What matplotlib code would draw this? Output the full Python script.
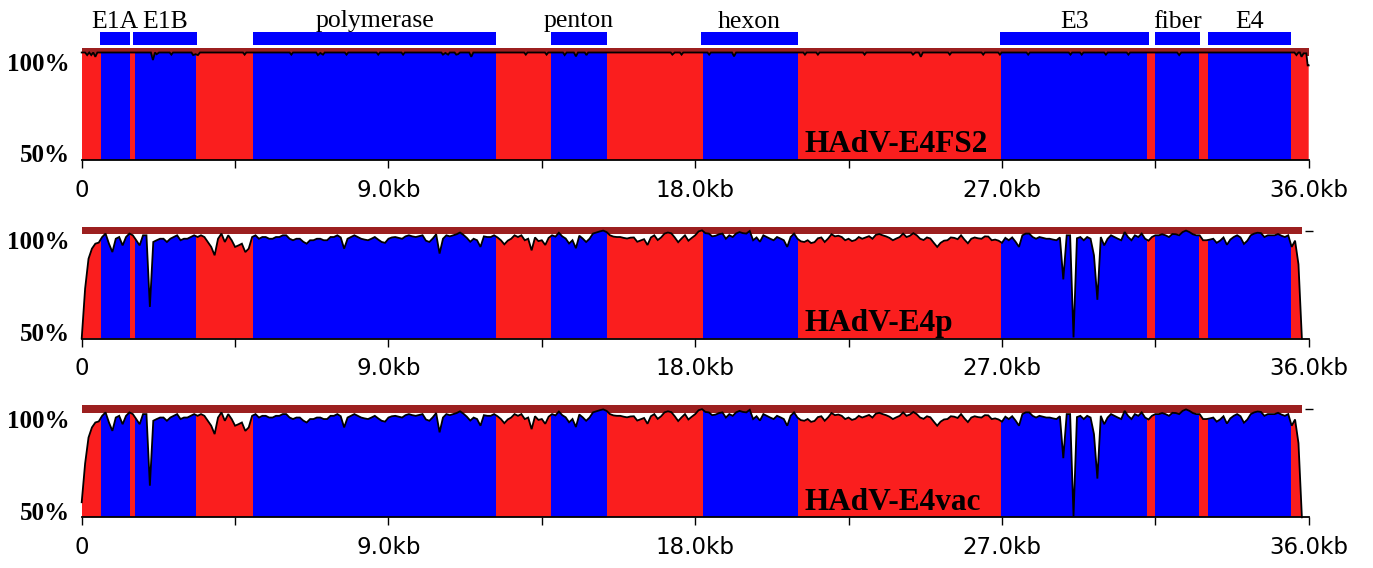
import numpy as np
import matplotlib
matplotlib.use("Agg")
import matplotlib.pyplot as plt
from matplotlib.patches import Polygon, Rectangle
from matplotlib.transforms import blended_transform_factory

# ---------------- data ----------------
# coloured regions along the genome (kb); 'r' = non-coding (red), 'b' = coding (blue)
region_start = [0.0, 0.57, 1.41, 1.56, 3.34, 5.02, 12.17, 13.78, 15.40, 18.22,
                21.03, 26.96, 31.27, 31.50, 32.77, 33.05, 35.48]
region_type = ['r', 'b', 'r', 'b', 'r', 'b', 'r', 'b', 'r', 'b',
               'r', 'b', 'r', 'b', 'r', 'b', 'r']

# gene annotation (kb)
gene_names = ['E1A', 'E1B', 'polymerase', 'penton', 'hexon', 'E3', 'fiber', 'E4']
gene_start = [0.53, 1.51, 5.03, 13.77, 18.16, 26.93, 31.50, 33.06]
gene_end = [1.41, 3.37, 12.17, 15.40, 21.03, 31.32, 32.81, 35.48]

# x-axis ticks
major_ticks = [0, 9, 18, 27, 36]
major_labels = ['0', '9.0kb', '18.0kb', '27.0kb', '36.0kb']
minor_ticks = [4.5, 13.5, 22.5, 31.5]

panel_names = ['HAdV-E4FS2', 'HAdV-E4p', 'HAdV-E4vac']
seq_len = [36.0, 35.8, 35.8]

# HAdV-E4FS2: identity curve vertices (kb, %)
fs2_kb = [0.0, 0.1, 0.16, 0.22, 0.28, 0.34, 0.4, 0.46, 2.03, 2.09, 2.15, 2.2, 2.27,
          2.58, 2.63, 2.68, 3.22, 3.27, 3.34, 3.41, 3.47, 4.73, 4.78, 4.83, 6.1, 6.15,
          6.2, 6.88, 6.93, 7.0, 7.08, 7.13, 7.72, 7.77, 7.82, 8.65, 8.7, 8.75, 9.38,
          9.43, 9.48, 10.55, 10.6, 10.67, 10.75, 10.8, 10.94, 10.99, 11.04, 11.1,
          11.37, 11.43, 11.49, 12.98, 13.03, 13.08, 13.59, 13.64, 13.69, 14.12, 14.17,
          14.23, 14.44, 14.5, 14.56, 14.76, 14.81, 14.86, 17.28, 17.33, 17.4, 17.55,
          17.6, 17.65, 18.36, 18.41, 18.46, 19.08, 19.14, 19.2, 21.17, 21.22, 21.27,
          21.55, 21.6, 21.65, 22.92, 22.97, 23.02, 24.34, 24.39, 24.46, 24.56, 24.62,
          24.68, 25.42, 25.47, 25.52, 26.4, 26.45, 26.5, 26.89, 26.94, 26.99, 27.72,
          27.77, 27.82, 28.96, 29.01, 29.06, 29.29, 29.34, 29.39, 30.0, 30.05, 30.1,
          30.66, 30.71, 30.76, 32.14, 32.2, 32.26, 35.58, 35.64, 35.7, 35.74, 35.79,
          35.85, 35.93, 35.97, 36.0]
fs2_pct = [100, 100, 98.8, 100, 98.8, 100, 98.0, 100, 100, 96.5, 100, 99.2, 100,
           100, 99.0, 100, 100, 98.8, 99.2, 98.8, 100, 100, 99.0, 100, 100, 99.0,
           100, 100, 98.8, 99.8, 99.0, 100, 100, 99.0, 100, 100, 99.0, 100, 100,
           99.0, 100, 100, 99.0, 99.8, 99.0, 100, 100, 99.0, 99.2, 100,
           100, 98.0, 100, 100, 99.0, 100, 100, 99.0, 100, 100, 98.8,
           100, 100, 98.2, 100, 100, 98.8, 100, 100, 99.0, 100, 100,
           99.0, 100, 100, 99.0, 100, 100, 98.2, 100, 100, 99.0, 100,
           100, 99.0, 100, 100, 99.0, 100, 100, 99.0, 100, 100, 98.0,
           100, 100, 99.0, 100, 100, 99.0, 100, 100, 99.0, 100, 100,
           99.0, 100, 100, 99.0, 100, 100, 99.0, 100, 100, 99.0, 100,
           100, 99.0, 100, 100, 98.8, 100, 100, 98.8, 100, 100, 98.0,
           99.6, 99.6, 94.0, 94.0]

# HAdV-E4p: identity (%) every 0.1 kb from 0.0 kb (one row = 1 kb)
e4p_pct = [
    50.0, 73.2, 87.1, 91.8, 94.1, 94.6, 97.2, 98.8, 94.1, 90.2,
    96.4, 97.2, 93.3, 97.2, 98.8, 98.0, 95.7, 93.3, 98.0, 98.0,
    64.7, 94.9, 95.7, 96.4, 96.4, 94.9, 96.4, 97.2, 98.0, 95.7,
    96.4, 96.4, 97.2, 98.0, 97.2, 98.0, 97.2, 94.9, 92.6, 88.7,
    96.4, 98.8, 94.9, 98.0, 95.7, 92.6, 93.3, 94.1, 90.2, 91.8,
    97.2, 98.0, 96.4, 97.2, 97.2, 96.4, 96.4, 97.2, 97.2, 98.0,
    98.0, 96.4, 95.7, 96.4, 96.4, 95.0, 94.1, 95.7, 95.7, 96.4,
    96.4, 95.7, 95.7, 97.2, 97.2, 98.0, 97.0, 91.8, 96.4, 97.2,
    98.0, 97.2, 96.4, 96.0, 95.7, 96.4, 97.2, 96.0, 94.9, 94.5,
    96.4, 97.0, 97.2, 96.8, 96.4, 97.5, 98.0, 97.5, 97.2, 97.6,
    98.0, 95.5, 94.9, 96.5, 98.5, 89.5, 96.4, 98.0, 97.5, 98.0,
    98.5, 99.3, 98.2, 96.8, 95.0, 96.4, 95.7, 92.6, 97.5, 97.2,
    97.2, 98.0, 97.0, 95.7, 93.8, 95.5, 96.4, 98.0, 97.2, 98.0,
    95.7, 96.4, 91.0, 97.0, 95.3, 95.7, 93.5, 96.8, 98.0, 97.4,
    99.2, 97.5, 96.5, 94.2, 95.7, 92.0, 97.8, 96.5, 94.9, 96.4,
    98.8, 99.3, 99.8, 100.2, 99.5, 98.0, 97.4, 97.2, 97.2, 96.8,
    96.5, 96.9, 97.0, 95.0, 95.6, 96.2, 93.5, 97.0, 98.0, 95.8,
    97.0, 98.8, 99.3, 98.9, 97.0, 94.8, 96.5, 98.0, 95.5, 96.8,
    98.0, 99.8, 100.3, 99.0, 98.8, 97.5, 97.8, 98.5, 98.8, 96.4,
    98.0, 97.2, 98.8, 99.5, 99.0, 98.8, 100.0, 95.7, 97.0, 95.0,
    98.0, 97.2, 96.4, 95.7, 97.2, 96.5, 95.7, 92.6, 97.2, 98.8,
    96.4, 95.2, 94.9, 95.7, 94.4, 94.8, 96.6, 97.0, 94.9, 96.5,
    98.5, 97.5, 97.8, 97.2, 95.7, 96.4, 95.3, 95.8, 97.2, 96.4,
    97.0, 97.6, 96.4, 98.2, 98.6, 98.0, 97.5, 96.8, 95.7, 96.5,
    97.2, 98.8, 97.2, 97.8, 99.0, 98.0, 96.4, 95.8, 97.0, 96.5,
    94.5, 92.6, 94.5, 95.5, 95.7, 97.0, 96.8, 96.2, 98.0, 96.0,
    94.3, 96.4, 97.0, 96.6, 96.4, 97.5, 97.4, 95.7, 96.0, 95.5,
    94.5, 96.8, 95.7, 97.0, 95.0, 92.6, 98.0, 98.8, 98.8, 97.2,
    96.4, 97.2, 96.8, 96.4, 96.4, 96.0, 95.7, 97.0, 77.5, 98.0,
    98.0, 50.5, 96.6, 97.2, 95.7, 97.2, 96.4, 88.7, 68.0, 97.2,
    93.3, 96.4, 98.0, 97.2, 96.4, 95.7, 99.5, 97.2, 95.7, 98.0,
    97.2, 98.8, 96.4, 95.5, 97.2, 98.0, 98.0, 98.5, 98.0, 97.2,
    98.6, 98.5, 98.0, 99.5, 100.2, 99.5, 98.5, 98.0, 98.0, 95.7,
    95.7, 96.0, 96.4, 94.5, 95.5, 97.0, 93.6, 96.0, 97.2, 98.0,
    97.0, 94.0, 95.5, 98.0, 98.8, 99.2, 99.0, 97.2, 98.0, 98.0,
    98.0, 98.6, 97.8, 97.2, 98.0, 92.6, 95.5, 84.5, 50.0,
]

# HAdV-E4vac: identity (%) every 0.1 kb from 0.0 kb (one row = 1 kb)
e4vac_pct = [
    57.0, 75.0, 87.1, 91.8, 94.1, 94.6, 97.2, 98.8, 94.1, 90.2,
    96.4, 97.2, 93.3, 97.2, 98.8, 98.0, 95.7, 93.3, 98.0, 98.0,
    64.7, 94.9, 95.7, 96.4, 96.4, 94.9, 96.4, 97.2, 98.0, 95.7,
    96.4, 96.4, 97.2, 98.0, 97.2, 98.0, 97.2, 94.9, 92.6, 88.7,
    96.4, 98.8, 94.9, 98.0, 95.7, 92.6, 93.3, 94.1, 90.2, 91.8,
    97.2, 98.0, 96.4, 97.2, 97.2, 96.4, 96.4, 97.2, 97.2, 98.0,
    98.0, 96.4, 95.7, 96.4, 96.4, 95.0, 94.1, 95.7, 95.7, 96.4,
    96.4, 95.7, 95.7, 97.2, 97.2, 98.0, 97.0, 91.8, 96.4, 97.2,
    98.0, 97.2, 96.4, 96.0, 95.7, 96.4, 97.2, 96.0, 94.9, 94.5,
    96.4, 97.0, 97.2, 96.8, 96.4, 97.5, 98.0, 97.5, 97.2, 97.6,
    98.0, 95.5, 94.9, 96.5, 98.5, 89.5, 96.4, 98.0, 97.5, 98.0,
    98.5, 99.3, 98.2, 96.8, 95.0, 96.4, 95.7, 92.6, 97.5, 97.2,
    97.2, 98.0, 97.0, 95.7, 93.8, 95.5, 96.4, 98.0, 97.2, 98.0,
    95.7, 96.4, 91.0, 97.0, 95.3, 95.7, 93.5, 96.8, 98.0, 97.4,
    99.2, 97.5, 96.5, 94.2, 95.7, 92.0, 97.8, 96.5, 94.9, 96.4,
    98.8, 99.3, 99.8, 100.2, 99.5, 98.0, 97.4, 97.2, 97.2, 96.8,
    96.5, 96.9, 97.0, 95.0, 95.6, 96.2, 93.5, 97.0, 98.0, 95.8,
    97.0, 98.8, 99.3, 98.9, 97.0, 94.8, 96.5, 98.0, 95.5, 96.8,
    98.0, 99.8, 100.3, 99.0, 98.8, 97.5, 97.8, 98.5, 98.8, 96.4,
    98.0, 97.2, 98.8, 99.5, 99.0, 98.8, 100.0, 95.7, 97.0, 95.0,
    98.0, 97.2, 96.4, 95.7, 97.2, 96.5, 95.7, 92.6, 97.2, 98.8,
    96.4, 95.2, 94.9, 95.7, 94.4, 94.8, 96.6, 97.0, 94.9, 96.5,
    98.5, 97.5, 97.8, 97.2, 95.7, 96.4, 95.3, 95.8, 97.2, 96.4,
    97.0, 97.6, 96.4, 98.2, 98.6, 98.0, 97.5, 96.8, 95.7, 96.5,
    97.2, 98.8, 97.2, 97.8, 99.0, 98.0, 96.4, 95.8, 97.0, 96.5,
    94.5, 92.6, 94.5, 95.5, 95.7, 97.0, 96.8, 96.2, 98.0, 96.0,
    94.3, 96.4, 97.0, 96.6, 96.4, 97.5, 97.4, 95.7, 96.0, 95.5,
    94.5, 96.8, 95.7, 97.0, 95.0, 92.6, 98.0, 98.8, 98.8, 97.2,
    96.4, 97.2, 96.8, 96.4, 96.4, 96.0, 95.7, 97.0, 77.5, 98.0,
    98.0, 50.5, 96.6, 97.2, 95.7, 97.2, 96.4, 88.7, 68.0, 97.2,
    93.3, 96.4, 98.0, 97.2, 96.4, 95.7, 99.5, 97.2, 95.7, 98.0,
    97.2, 98.8, 96.4, 95.5, 97.2, 98.0, 98.0, 98.5, 98.0, 97.2,
    98.6, 98.5, 98.0, 99.5, 100.2, 99.5, 98.5, 98.0, 98.0, 95.7,
    95.7, 96.0, 96.4, 94.5, 95.5, 97.0, 93.6, 96.0, 97.2, 98.0,
    97.0, 94.0, 95.5, 98.0, 98.8, 99.2, 99.0, 97.2, 98.0, 98.0,
    98.0, 98.6, 97.8, 97.2, 98.0, 92.6, 95.5, 84.5, 50.0,
]

STEP_KB = 0.1

# ---------------- style ----------------
W, H, DPI = 1373, 568, 100
BLUE = '#0000FF'
RED = '#FA1E1E'
BAR = '#9C1F1F'
SERIF = ['Liberation Serif', 'DejaVu Serif']
SANS = ['DejaVu Sans']

AX_LEFT_PX = 81.7
AX_W_PX = 1227.0
PANEL_H_PX = 112.0
PANEL_BOTTOM_PX = [160.0, 338.5, 517.3]
PX_PER_PCT = 2.15
Y_TOP = 50 + PANEL_H_PX / PX_PER_PCT
BAR_LOW = 98.6

fig = plt.figure(figsize=(W / DPI, H / DPI), dpi=DPI)

curves = [
    (np.array(fs2_kb), np.array(fs2_pct, dtype=float)),
    (np.arange(len(e4p_pct)) * STEP_KB, np.array(e4p_pct, dtype=float)),
    (np.arange(len(e4vac_pct)) * STEP_KB, np.array(e4vac_pct, dtype=float)),
]

region_end = region_start[1:]

for i, (xk, yp) in enumerate(curves):
    bottom = PANEL_BOTTOM_PX[i]
    ax = fig.add_axes([AX_LEFT_PX / W, (H - bottom) / H, AX_W_PX / W, PANEL_H_PX / H])
    ax.set_xlim(0, 36)
    ax.set_ylim(50, Y_TOP)
    L = seq_len[i]

    # dark red bar at the top
    ax.add_patch(Rectangle((0, BAR_LOW), L, Y_TOP - BAR_LOW, facecolor=BAR,
                           edgecolor='none', zorder=1, clip_on=False))

    # region colours, clipped to area under curve
    verts = np.column_stack([np.r_[xk[0], xk, xk[-1]], np.r_[50, yp, 50]])
    clip = Polygon(verts, closed=True, transform=ax.transData)
    ends = region_end + [L]
    for s, e, t in zip(region_start, ends, region_type):
        r = Rectangle((s, 50), e - s, Y_TOP - 50 + 5, facecolor=BLUE if t == 'b' else RED,
                      edgecolor='none', zorder=2)
        ax.add_patch(r)
        r.set_clip_path(clip)

    ax.plot(xk, yp, color='black', lw=1.3, zorder=4, clip_on=False, solid_joinstyle='miter')

    # axes styling
    for sp in ['top', 'left', 'right']:
        ax.spines[sp].set_visible(False)
    ax.spines['bottom'].set_linewidth(1.3)
    ax.spines['bottom'].set_zorder(5)
    ax.set_xticks(major_ticks)
    ax.set_xticklabels(major_labels, fontfamily=SANS, fontsize=16.5)
    ax.set_xticks(minor_ticks, minor=True)
    ax.tick_params(axis='x', which='both', direction='out', length=5.5, width=1.0,
                   pad=8, color='black')
    if i == 0:
        ax.set_yticks([])
    else:
        ax.yaxis.set_ticks_position('right')
        ax.set_yticks([100.2])
        ax.tick_params(axis='y', which='both', direction='inout', length=6, width=1.0,
                       labelright=False, labelleft=False)
    ax.set_facecolor('none')

    tr = blended_transform_factory(ax.transAxes, ax.transData)
    ax.text(-0.0095, 94.6, '100%', transform=tr, ha='right', va='center',
            fontfamily=SERIF, fontweight='bold', fontsize=18)
    ax.text(-0.0095, 52.0, '50%', transform=tr, ha='right', va='center',
            fontfamily=SERIF, fontweight='bold', fontsize=18)
    ax.text(21.2, 53.5, panel_names[i], ha='left', va='baseline',
            fontfamily=SERIF, fontweight='bold', fontsize=22.5, zorder=6)

# gene annotation track
ann = fig.add_axes([AX_LEFT_PX / W, 1 - 48 / H, AX_W_PX / W, 48 / H])
ann.set_xlim(0, 36)
ann.set_ylim(48, 0)
ann.axis('off')
ann.broken_barh([(s, e - s) for s, e in zip(gene_start, gene_end)], (32, 13),
                facecolors=BLUE, edgecolor='none')
for name, s, e in zip(gene_names, gene_start, gene_end):
    ann.text((s + e) / 2, 27.5, name, ha='center', va='baseline',
             fontfamily=SERIF, fontsize=18.5)

fig.savefig('out.png', dpi=DPI)
